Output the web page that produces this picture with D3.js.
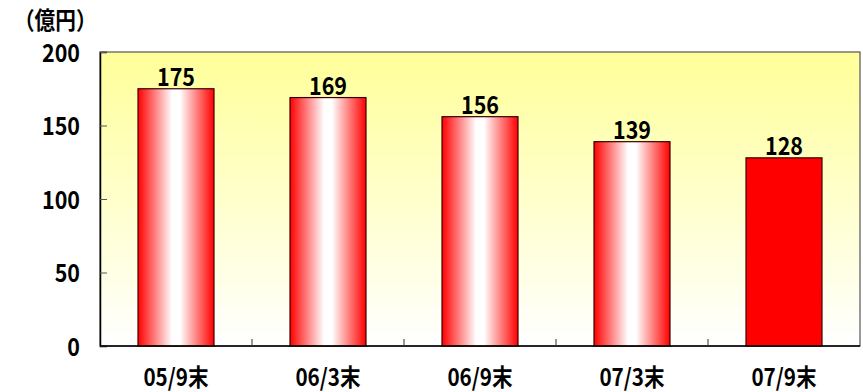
<!DOCTYPE html>
<html><head><meta charset="utf-8">
<script src="https://cdn.jsdelivr.net/npm/d3@7"></script>
<style>body{margin:0;background:#fff}text{font-family:"Noto Sans CJK JP",sans-serif;font-weight:bold;fill:#000}</style>
</head><body><svg id="c" width="863" height="392"></svg>
<script>
const categories = ["05/9末","06/3末","06/9末","07/3末","07/9末"];
const values = [175,169,156,139,128];
const yTicks = [0,50,100,150,200];
const unitLabel = "（億円）";

const svg = d3.select("#c");
const m = {l:100, t:52, r:860, b:346};
const x = d3.scaleBand().domain(categories).range([m.l, m.r]).paddingInner(0.5).paddingOuter(0.25);
const y = d3.scaleLinear().domain([0,200]).range([m.b, m.t]);
const sx = 0.86, fs = 25;
function squeeze(sel){ sel.attr("transform",function(){const cx=+this.getAttribute("x")||0;return `translate(${cx},0) scale(${sx},1) translate(${-cx},0)`;}); }

const defs = svg.append("defs");
const bg = defs.append("linearGradient").attr("id","bg").attr("x1",0).attr("y1",0).attr("x2",0).attr("y2",1);
bg.append("stop").attr("offset","0%").attr("stop-color","#ffff99");
bg.append("stop").attr("offset","100%").attr("stop-color","#ffffff");
const bar = defs.append("linearGradient").attr("id","bar").attr("x1",0).attr("y1",0).attr("x2",1).attr("y2",0);
[[0,"#ff0000"],[0.45,"#ffffff"],[0.55,"#ffffff"],[1,"#ff0000"]].forEach(([o,c])=>bar.append("stop").attr("offset",o).attr("stop-color",c));

svg.append("rect").attr("x",m.l).attr("y",m.t).attr("width",m.r-m.l).attr("height",m.b-m.t)
  .attr("fill","url(#bg)").attr("stroke","#555").attr("stroke-width",1.2);

// left axis (inward ticks)
const ya = svg.append("g").attr("transform",`translate(${m.l},0)`)
  .call(d3.axisLeft(y).tickValues(yTicks).tickSize(-7).tickPadding(20));
ya.select(".domain").attr("stroke","#000").attr("stroke-width",1.5);
ya.selectAll(".tick line").attr("stroke","#555");
ya.selectAll("text").attr("font-size",fs).attr("font-family","Noto Sans CJK JP").attr("font-weight","bold").attr("fill","#000").attr("dy","0.36em")
  .each(function(){ this.setAttribute("x",-20); }).call(squeeze);

svg.selectAll("rect.bar").data(values).join("rect").attr("class","bar")
  .attr("x",(d,i)=>x(categories[i])).attr("y",d=>y(d))
  .attr("width",x.bandwidth()).attr("height",d=>y(0)-y(d))
  .attr("fill",(d,i)=>i===values.length-1?"#ff0000":"url(#bar)")
  .attr("stroke","#3a0000").attr("stroke-width",1.2);

svg.selectAll("text.val").data(values).join("text").attr("class","val")
  .attr("x",(d,i)=>x(categories[i])+x.bandwidth()/2).attr("y",d=>y(d)-3)
  .attr("text-anchor","middle").attr("font-size",fs).text(d=>d).call(squeeze);

// bottom axis
const bx = d3.scaleLinear().domain([0,categories.length]).range([m.l,m.r]);
const xa = svg.append("g").attr("transform",`translate(0,${m.b})`);
xa.append("line").attr("x1",m.l).attr("x2",m.r).attr("stroke","#000").attr("stroke-width",1.5);
xa.selectAll("line.t").data(d3.range(1,categories.length)).join("line").attr("class","t")
  .attr("x1",d=>bx(d)).attr("x2",d=>bx(d)).attr("y1",0).attr("y2",-7).attr("stroke","#333");
xa.selectAll("text").data(categories).join("text")
  .attr("x",d=>x(d)+x.bandwidth()/2).attr("y",40).attr("text-anchor","middle").attr("font-size",fs-1).text(d=>d).call(squeeze);

svg.append("text").attr("x",14).attr("y",29).attr("font-size",fs-1).text(unitLabel).call(squeeze);
</script></body></html>
